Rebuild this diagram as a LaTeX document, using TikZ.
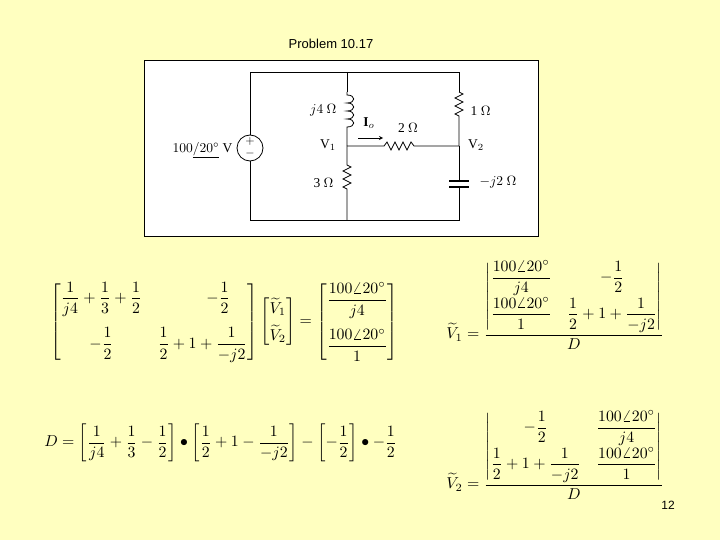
\documentclass[tikz,border=0pt]{standalone}
\usepackage{amsmath}
\usepackage{fontspec}
\setmainfont{Liberation Serif}
\newfontfamily\arialf{Liberation Sans}
\definecolor{bgy}{HTML}{FFFFC0}
\tikzset{wire/.style={line width=0.8pt},
 lab/.style={scale=1.35,inner sep=1pt},
 eq/.style={scale=1.58,inner sep=0pt}}
\newcommand{\tv}[1]{\widetilde{V}_{#1}}
\newcommand{\ang}{100\angle 20^\circ}
\begin{document}
\begin{tikzpicture}[x=1pt,y=-1pt]
\fill[bgy] (0,0) rectangle (720,540);
\useasboundingbox (0,0) rectangle (720,540);
\node[font=\arialf\fontsize{13}{13}\selectfont] (title) at (331,44) {Problem\ 10.17};
\node[draw=black,fill=white,line width=0.8pt,minimum width=394pt,minimum height=176pt,inner sep=0pt,anchor=north west] (img) at (144,60) {};
% circuit
\coordinate (tl) at (250,72); \coordinate (tm) at (347,72); \coordinate (tr) at (459,72);
\coordinate (bl) at (250,220); \coordinate (bm) at (347,220); \coordinate (br) at (459,220);
\coordinate (v1) at (347,146); \coordinate (v2) at (459,146);
\node[draw,circle,minimum size=26pt,inner sep=0pt,wire] (src) at (250,148) {};
\node[scale=1.2] (pl) at (250,142) {$+$};
\node[scale=1.2] (mi) at (250,154) {$-$};
\draw[wire] (src.north) -- (tl) -- (tr) -- (459,92);
\draw[wire] (src.south) -- (bl) -- (br) -- (459,190);
\draw[wire] (tm) -- (347,92);
\draw[wire] (347,92) -- (347,95) .. controls (356,95) and (356,103) .. (347,103) .. controls (356,103) and (356,111) .. (347,111) .. controls (356,111) and (356,119) .. (347,119) .. controls (356,119) and (356,127) .. (347,127) -- (v1);
\draw[wire] (v1) -- (347,165) -- (351,167) -- (343,171) -- (351,175) -- (343,179) -- (351,183) -- (343,187) -- (347,189) -- (bm);
\draw[wire] (v1) -- (384,146) -- (387,142) -- (391,150) -- (395,142) -- (399,150) -- (403,142) -- (407,150) -- (411,142) -- (414,146) -- (v2);
\draw[wire] (459,92) -- (463,94) -- (455,98) -- (463,102) -- (455,106) -- (463,110) -- (455,114) -- (459,116) -- (v2);
\draw[wire] (v2) -- (459,181);
\draw[line width=1.4pt] (449,181) -- (469,181) (449,187) -- (469,187);
\draw[wire] (459,187) -- (459,190);
\draw[wire,-stealth] (358,138) -- (383,138);
\node[lab,anchor=east] (l1) at (338,110) {$j4$ $\Omega$};
\node[lab] (l2) at (369,123) {$\mathbf{I}_o$};
\node[lab] (l3) at (408,128) {2 $\Omega$};
\node[lab,anchor=west] (l4) at (469,111) {1 $\Omega$};
\node[lab] (l5) at (328,145) {$\mathrm{V}_1$};
\node[lab] (l6) at (476,145) {$\mathrm{V}_2$};
\node[lab,anchor=east] (l7) at (335,183) {3 $\Omega$};
\node[lab,anchor=west] (l8) at (478,182) {$-j2$ $\Omega$};
\node[lab,anchor=east] (l9) at (234,150) {$100\underline{/20^\circ}$ V};
% equations
\node[eq,anchor=west] (e1) at (50,322) {$\begin{bmatrix} \dfrac{1}{j4}+\dfrac13+\dfrac12 & \qquad-\dfrac12\\[12pt] -\dfrac12 & \dfrac12+1+\dfrac{1}{-j2}\end{bmatrix}\begin{bmatrix}\tv1\\[4pt] \tv2\end{bmatrix}=\begin{bmatrix}\dfrac{\ang}{j4}\\[12pt] \dfrac{\ang}{1}\end{bmatrix}$};
\node[eq,anchor=west] (e2) at (446,305) {$\tv1=\dfrac{\begin{vmatrix}\dfrac{\ang}{j4} & -\dfrac12\\[6pt] \dfrac{\ang}{1} & \dfrac12+1+\dfrac{1}{-j2}\end{vmatrix}}{D}$};
\node[eq,anchor=west] (e3) at (44,443) {$D=\left[\dfrac{1}{j4}+\dfrac13-\dfrac12\right]\bullet\left[\dfrac12+1-\dfrac{1}{-j2}\right]-\left[-\dfrac12\right]\bullet-\dfrac12$};
\node[eq,anchor=west] (e4) at (446,455) {$\tv2=\dfrac{\begin{vmatrix}-\dfrac12 & \dfrac{\ang}{j4}\\[6pt] \dfrac12+1+\dfrac{1}{-j2} & \dfrac{\ang}{1}\end{vmatrix}}{D}$};
\node[font=\arialf\fontsize{12}{12}\selectfont] (pg) at (668,505) {12};
\end{tikzpicture}
\end{document}
